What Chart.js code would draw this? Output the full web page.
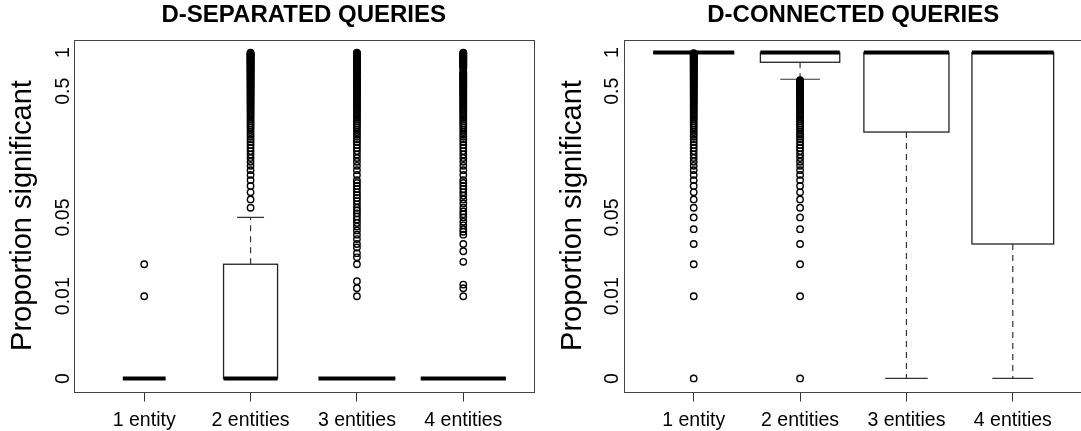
<!DOCTYPE html>
<html>
<head>
<meta charset="utf-8">
<script src="https://cdn.jsdelivr.net/npm/chart.js@4.4.1/dist/chart.umd.min.js"></script>
<style>
  html, body { margin: 0; padding: 0; background: #fff; overflow: hidden; }
  canvas { position: absolute; top: 0; }
  #sepChart { left: 0; }
  #conChart { left: 540px; }
</style>
</head>
<body>
<canvas id="sepChart" width="540" height="431"></canvas>
<canvas id="conChart" width="543" height="431"></canvas>
<script>
const categories = ['1 entity', '2 entities', '3 entities', '4 entities'];
const yTickValues = [0, 0.01, 0.05, 0.5, 1];
const yTickLabels = ['0', '0.01', '0.05', '0.5', '1'];

// D-separated queries (proportions)
const sepCounts = [252, 403, 814, 1000];
const sepLowerWhisker = [0, 0, 0, 0];
const sepQ1 = [0, 0, 0, 0];
const sepMedian = [0, 0, 0, 0];
const sepQ3 = [0, 0.02, 0, 0];
const sepUpperWhisker = [0, 0.05, 0, 0];
// outliers, in percent
const sepOutliers1 = [1, 2];
const sepOutliers2 = [6, 7, 8, 9, 10, 11, 12, 13, 14, 15, 16, 17, 18, 19, 20, 21, 22, 23, 24, 25,
  26, 27, 28, 29, 30, 31, 32, 33, 34, 35, 36, 37, 38, 39, 40, 41, 42, 43, 44, 45, 46, 47, 48, 49, 50,
  51, 52, 53, 54, 55, 56, 57, 58, 59, 60, 61, 62, 63, 64, 65, 66, 67, 68, 69, 70, 71, 72, 73, 74, 75,
  76, 77, 78, 79, 80, 81, 82, 83, 84, 85, 86, 87, 88, 89, 90, 91, 92, 93, 94, 95, 96, 97, 98, 99, 100];
const sepOutliers3 = [1, 1.2, 1.4, 2, 2.3, 2.5, 2.8, 3, 3.3, 3.6, 3.9, 4.2, 4.5, 4.8, 5.1, 5.4, 5.7,
  6, 6.4, 6.8, 7.2, 7.6, 8, 8.5, 9, 9.5, 10, 11, 12, 13, 14, 15, 16, 17, 18, 19, 20, 21, 22, 23, 24, 25,
  26, 27, 28, 29, 30, 31, 32, 33, 34, 35, 36, 37, 38, 39, 40, 41, 42, 43, 44, 45, 46, 47, 48, 49, 50,
  51, 52, 53, 54, 55, 56, 57, 58, 59, 60, 61, 62, 63, 64, 65, 68, 69, 70, 71, 72, 73, 74, 75,
  76, 77, 78, 79, 80, 81, 82, 83, 84, 85, 86, 87, 88, 89, 90, 91, 92, 93, 94, 95, 96, 97, 98, 99, 100];
const sepOutliers4 = [1, 1.2, 1.3, 2.1, 2.6, 3, 3.6, 3.8, 4, 4.3, 4.6, 5, 5.3, 5.6, 6, 6.5, 7, 7.5,
  8, 8.5, 9, 9.5, 10, 11, 12, 13, 14, 15, 16, 17, 18, 19, 20, 21, 22, 23, 24, 25,
  26, 27, 28, 29, 30, 31, 32, 33, 34, 35, 36, 37, 38, 39, 40, 41, 42, 43, 44, 45, 46, 47, 48, 49, 50,
  51, 52, 53, 54, 55, 56, 57, 58, 59, 60, 61, 62, 63, 64, 65, 66, 67, 68, 69, 70, 71, 75,
  76, 77, 78, 79, 80, 81, 82, 83, 84, 85, 86, 87, 88, 89, 90, 91, 92, 93, 94, 95, 96, 97, 98, 99, 100];

// D-connected queries (proportions)
const conCounts = [908, 870, 1000, 922];
const conLowerWhisker = [1, 0.62, 0, 0];
const conQ1 = [1, 0.84, 0.24, 0.03];
const conMedian = [1, 1, 1, 1];
const conQ3 = [1, 1, 1, 1];
const conUpperWhisker = [1, 1, 1, 1];
const conOutliers1 = [0, 1, 2, 3, 4, 5, 6, 7, 8, 9, 10, 11, 12, 13, 14, 15, 16, 17, 18, 19, 20, 21, 22, 23, 24,
  25, 26, 27, 28, 29, 30, 31, 32, 33, 34, 35, 36, 37, 38, 39, 40, 41, 42, 43, 44, 45, 46, 47, 48, 49,
  50, 51, 52, 53, 54, 55, 56, 57, 58, 59, 60, 61, 62, 63, 64, 65, 66, 67, 68, 69, 70, 71, 72, 73, 74,
  75, 76, 77, 78, 79, 80, 81, 82, 83, 84, 85, 86, 87, 88, 89, 90, 91, 92, 93, 94, 95, 96, 97, 98, 99];
const conOutliers2 = [0, 1, 2, 3, 4, 5, 6, 7, 8, 9, 10, 11, 12, 13, 14, 15, 16, 17, 18, 19, 20, 21, 22, 23, 24,
  25, 26, 27, 28, 29, 30, 31, 32, 33, 34, 35, 36, 37, 38, 39, 40, 41, 42, 43, 44, 45, 46, 47, 48, 49,
  50, 51, 52, 53, 54, 55, 56, 57, 58, 59, 60, 61];
const conOutliers3 = [];
const conOutliers4 = [];

// axis transform: log(p + shift)
const shift = 0.003;
function tr(p) { return Math.log(p + shift); }
const yLo = tr(0), yHi = tr(1);
const yPad = 0.04 * (yHi - yLo);

const FONT = "'Liberation Sans', Arial, Helvetica, sans-serif";

// draws boxes, whiskers, frame, y tick labels and panel title
const boxPlugin = {
    id: 'boxes',
    beforeDatasetsDraw(chart, args, opts) {
        const ctx = chart.ctx;
        const xs = chart.scales.x, ys = chart.scales.y;
        const unit = xs.getPixelForValue(2) - xs.getPixelForValue(1);
        const maxN = Math.max(...opts.counts);
        ctx.save();
        for (let i = 0; i < opts.counts.length; i++) {
            const xc = xs.getPixelForValue(i + 1);
            const half = 0.4 * Math.sqrt(opts.counts[i] / maxN) * unit;
            const py = v => ys.getPixelForValue(tr(v));
            const yq1 = py(opts.q1[i]), yq3 = py(opts.q3[i]), ymed = py(opts.median[i]);
            const ylo = py(opts.lo[i]), yhi = py(opts.hi[i]);
            // whiskers
            ctx.strokeStyle = '#333';
            ctx.lineWidth = 1.2;
            ctx.setLineDash([6, 5]);
            ctx.beginPath();
            ctx.moveTo(xc, yq3); ctx.lineTo(xc, yhi);
            ctx.moveTo(xc, yq1); ctx.lineTo(xc, ylo);
            ctx.stroke();
            ctx.setLineDash([]);
            ctx.beginPath();
            ctx.moveTo(xc - half / 2, yhi); ctx.lineTo(xc + half / 2, yhi);
            ctx.moveTo(xc - half / 2, ylo); ctx.lineTo(xc + half / 2, ylo);
            ctx.stroke();
            // box
            ctx.strokeStyle = '#222';
            ctx.lineWidth = 1.3;
            ctx.strokeRect(xc - half, yq3, 2 * half, yq1 - yq3);
            // median
            ctx.strokeStyle = '#000';
            ctx.lineWidth = 4;
            ctx.lineCap = 'butt';
            ctx.beginPath();
            ctx.moveTo(xc - half, ymed); ctx.lineTo(xc + half, ymed);
            ctx.stroke();
        }
        ctx.restore();
    },
    afterDraw(chart, args, opts) {
        const ctx = chart.ctx;
        const a = chart.chartArea;
        const ys = chart.scales.y;
        ctx.save();
        ctx.strokeStyle = '#444';
        ctx.lineWidth = 1;
        ctx.strokeRect(Math.round(a.left) + 0.5, Math.round(a.top) + 0.5,
            Math.round(a.right - a.left), Math.round(a.bottom - a.top));
        // y tick labels, vertical like R
        ctx.fillStyle = '#000';
        ctx.font = '19.5px ' + FONT;
        ctx.textAlign = 'center';
        ctx.textBaseline = 'alphabetic';
        yTickValues.forEach((v, k) => {
            ctx.save();
            ctx.translate(a.left - 5.5, ys.getPixelForValue(tr(v)));
            ctx.rotate(-Math.PI / 2);
            ctx.fillText(yTickLabels[k], 0, 0);
            ctx.restore();
        });
        // panel title
        ctx.font = 'bold 24px ' + FONT;
        ctx.textBaseline = 'middle';
        ctx.fillText(opts.title, (a.left + a.right) / 2, 15.5);
        ctx.restore();
    }
};

function makePanel(canvasId, title, stats, outlierLists, yWidth, padRight, titlePad) {
    const points = [];
    outlierLists.forEach((list, i) => {
        list.forEach(pct => points.push({ x: i + 1, y: tr(pct / 100) }));
    });
    return new Chart(document.getElementById(canvasId), {
        type: 'scatter',
        data: {
            datasets: [{
                data: points,
                pointStyle: 'circle',
                pointRadius: 3.2,
                borderWidth: 1.4,
                borderColor: '#000',
                backgroundColor: 'rgba(0,0,0,0)'
            }]
        },
        options: {
            responsive: false,
            animation: false,
            devicePixelRatio: 1,
            layout: { autoPadding: false, padding: { top: 39.5, right: padRight, bottom: 0, left: 0 } },
            plugins: {
                legend: { display: false },
                tooltip: { enabled: false },
                boxes: Object.assign({ title: title }, stats)
            },
            scales: {
                x: {
                    type: 'linear',
                    min: 0.34,
                    max: 4.66,
                    afterBuildTicks: s => { s.ticks = [1, 2, 3, 4].map(v => ({ value: v })); },
                    afterFit: s => { s.height = 39.5; },
                    ticks: {
                        callback: v => categories[v - 1],
                        color: '#000',
                        font: { family: FONT, size: 19.5 },
                        padding: 7,
                        maxRotation: 0
                    },
                    grid: { display: true, drawOnChartArea: false, drawTicks: true, tickLength: 10, color: '#333' },
                    border: { display: false }
                },
                y: {
                    type: 'linear',
                    min: yLo - yPad,
                    max: yHi + yPad,
                    afterFit: s => { s.width = yWidth; },
                    ticks: { display: false },
                    grid: { display: false, drawTicks: false },
                    border: { display: false },
                    title: {
                        display: true,
                        text: 'Proportion significant',
                        color: '#000',
                        font: { family: FONT, size: 29, lineHeight: 1 },
                        padding: { top: titlePad, bottom: 0 }
                    }
                }
            }
        },
        plugins: [boxPlugin]
    });
}

makePanel('sepChart', 'D-SEPARATED QUERIES',
    { counts: sepCounts, lo: sepLowerWhisker, q1: sepQ1, median: sepMedian, q3: sepQ3, hi: sepUpperWhisker },
    [sepOutliers1, sepOutliers2, sepOutliers3, sepOutliers4], 74, 6.5, 8.5);

makePanel('conChart', 'D-CONNECTED QUERIES',
    { counts: conCounts, lo: conLowerWhisker, q1: conQ1, median: conMedian, q3: conQ3, hi: conUpperWhisker },
    [conOutliers1, conOutliers2, conOutliers3, conOutliers4], 83.5, 0, 18);
</script>
</body>
</html>
